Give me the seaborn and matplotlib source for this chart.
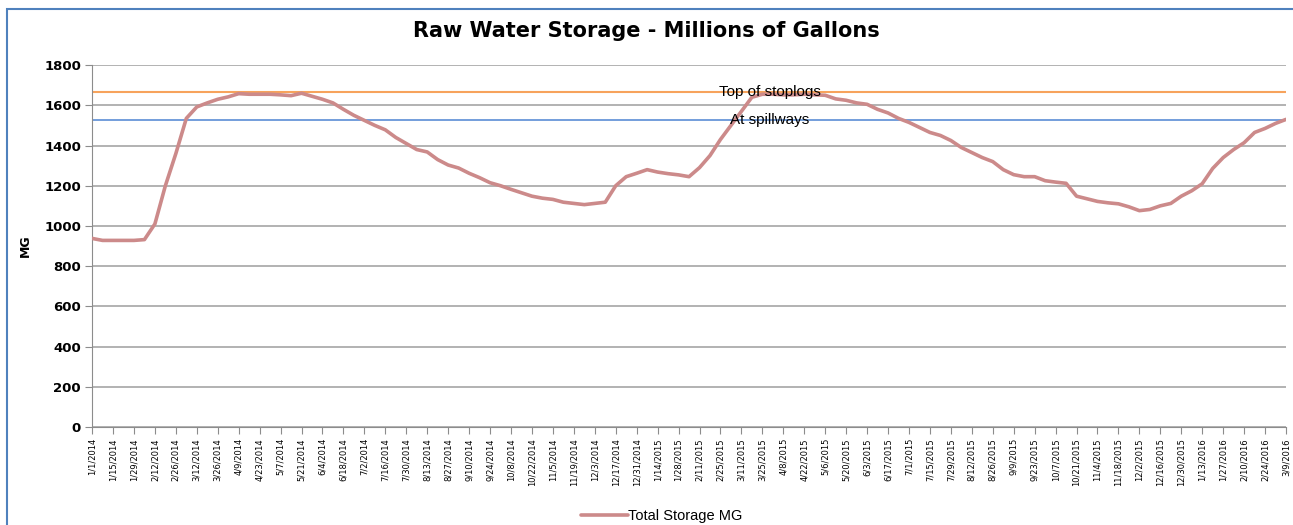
import matplotlib
matplotlib.use("Agg")
import matplotlib.pyplot as plt
import seaborn as sns
import numpy as np
import pandas as pd
from matplotlib.patches import Rectangle

# Weekly storage readings, 1/1/2014 .. 3/9/2016
fechas = pd.date_range("2014-01-01", "2016-03-09", freq="7D")
storage_mg = [
    938, 928, 928, 928, 928, 932, 1010, 1200, 1360, 1535,
    1592, 1612, 1630, 1642, 1658, 1655, 1655, 1655, 1652, 1648,
    1660, 1645, 1630, 1612, 1580, 1550, 1525, 1500, 1478, 1440,
    1410, 1380, 1368, 1330, 1303, 1288, 1262, 1240, 1215, 1200,
    1182, 1165, 1148, 1138, 1132, 1118, 1112, 1106, 1112, 1118,
    1200, 1245, 1262, 1280, 1268, 1260, 1254, 1245, 1290, 1350,
    1430, 1500, 1570, 1640, 1655, 1655, 1652, 1652, 1655, 1652,
    1650, 1632, 1625, 1612, 1605, 1580, 1562, 1535, 1515, 1490,
    1465, 1450, 1425, 1390, 1365, 1340, 1320, 1280, 1255, 1245,
    1245, 1225, 1218, 1212, 1148, 1135, 1122, 1115, 1110, 1095,
    1076, 1082, 1100, 1112, 1148, 1175, 1210, 1286, 1340, 1380,
    1414, 1465, 1485, 1510, 1530,
]
top_stoplogs = 1665
at_spillways = 1525

etiquetas = [f"{d.month}/{d.day}/{d.year}" for d in fechas]

sns.set_style("white")
plt.rcParams['font.family'] = ['DejaVu Sans']
plt.rcParams['text.color'] = 'black'
plt.rcParams['axes.labelcolor'] = 'black'
plt.rcParams['xtick.color'] = 'black'
plt.rcParams['ytick.color'] = 'black'

fig = plt.figure(figsize=(12.93, 5.25), dpi=100)
ax = fig.add_axes([0.0712, 0.1867, 0.9234, 0.6893])

x = np.arange(len(storage_mg))
df = pd.DataFrame({"semana": x, "Total Storage MG": storage_mg})

ax.axhline(top_stoplogs, color="#f7a35c", lw=1.5, zorder=2)
ax.axhline(at_spillways, color="#5b8ed6", lw=1.2, zorder=2)
sns.lineplot(data=df, x="semana", y="Total Storage MG", ax=ax,
             color="#cc8a8a", lw=2.6, label="Total Storage MG", zorder=3)

ax.text(0.525, top_stoplogs, "Top of stoplogs", transform=ax.get_yaxis_transform(),
        ha="left", va="center", fontsize=11, family="Liberation Sans", zorder=4)
ax.text(0.534, at_spillways, "At spillways", transform=ax.get_yaxis_transform(),
        ha="left", va="center", fontsize=11, family="Liberation Sans", zorder=4)

ax.set_ylim(0, 1800)
ax.set_yticks(range(0, 1801, 200))
ax.set_xlim(0, len(storage_mg) - 1)
ax.set_xticks(x[::2])
ax.set_xticklabels(etiquetas[::2], rotation=90, fontsize=6)
for lbl in ax.get_yticklabels():
    lbl.set_fontweight("bold")
    lbl.set_fontsize(9.5)
ax.yaxis.grid(True, color="#a6a6a6", lw=1.2)
ax.xaxis.grid(False)
for s in ["top", "right"]:
    ax.spines[s].set_visible(False)
for s in ["left", "bottom"]:
    ax.spines[s].set_color("#8c8c8c")
ax.tick_params(axis="both", length=5, color="#8c8c8c", direction="out",
               left=True, bottom=True, pad=3)
ax.set_xlabel("")
ax.set_ylabel("MG", fontweight="bold", fontsize=9, labelpad=9)

fig.suptitle("Raw Water Storage - Millions of Gallons", fontweight="bold",
             fontsize=15, y=0.96)

leg = ax.legend(loc="upper center", bbox_to_anchor=(0.477, -0.19), frameon=False,
                fontsize=10.5, handlelength=3.2, handletextpad=0)
for t in leg.get_texts():
    t.set_family("Liberation Sans")

fig.patches.append(Rectangle((0.0055, -0.1), 1.2, 1.083, transform=fig.transFigure,
                             fill=False, edgecolor="#4f81bd", lw=1.5))

fig.savefig("out.png", dpi=100)
